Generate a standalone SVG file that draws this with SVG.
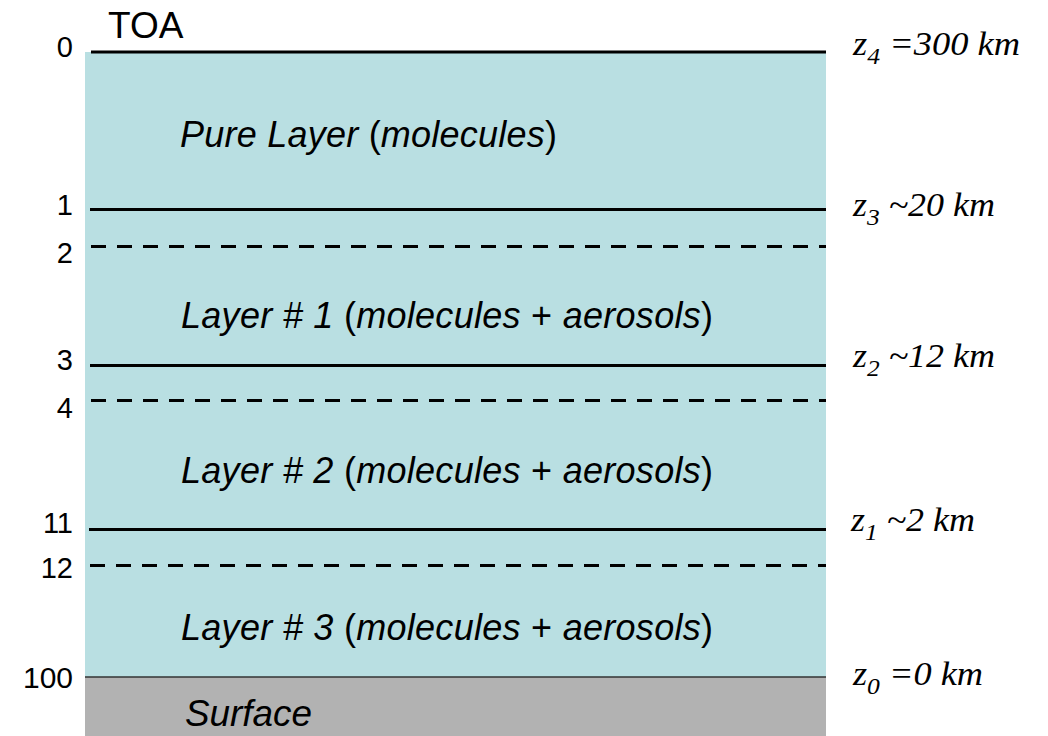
<svg xmlns="http://www.w3.org/2000/svg" width="1048" height="736" viewBox="0 0 1048 736">
<style>
.lvl{stroke:#000;stroke-width:3;fill:none}
.dash{stroke-dasharray:15 11}
.num{font-family:"Liberation Sans",Arial,sans-serif;font-size:29px;fill:#000;text-anchor:end}
.lay{font-family:"Liberation Sans",Arial,sans-serif;font-size:36px;font-style:italic;fill:#000}
.up{font-style:normal}
.z{font-family:"Liberation Serif","Times New Roman",serif;font-size:34px;font-style:italic;fill:#000}
.sub{font-size:24px}
</style>
<rect x="0" y="0" width="1048" height="736" fill="#fff"/>
<g id="atmosphere">
<rect x="85" y="52" width="741" height="625" fill="#B9DFE2"/>
</g>
<g id="surface">
<rect x="85" y="677" width="741" height="59" fill="#B2B2B2"/>
<line x1="85" y1="677" x2="826" y2="677" stroke="#333" stroke-width="1.5"/>
<text class="lay" x="185" y="726" textLength="127" lengthAdjust="spacingAndGlyphs">Surface</text>
</g>
<g id="connectors">
<line class="lvl" x1="91" y1="52" x2="826" y2="52"/>
<line class="lvl" x1="90" y1="209.5" x2="826" y2="209.5"/>
<line class="lvl dash" x1="91" y1="246.5" x2="826" y2="246.5"/>
<line class="lvl" x1="90" y1="365.5" x2="826" y2="365.5"/>
<line class="lvl dash" x1="91" y1="400.5" x2="826" y2="400.5"/>
<line class="lvl" x1="89" y1="529.5" x2="826" y2="529.5"/>
<line class="lvl dash" x1="90" y1="565.5" x2="826" y2="565.5"/>
</g>
<g id="toa">
<text x="108" y="38" font-family="Liberation Sans,Arial,sans-serif" font-size="37" fill="#000">TOA</text>
</g>
<g id="level-numbers">
<text class="num" x="73" y="57">0</text>
<text class="num" x="73" y="215">1</text>
<text class="num" x="73" y="263">2</text>
<text class="num" x="73" y="370">3</text>
<text class="num" x="73" y="418">4</text>
<text class="num" x="73" y="533">11</text>
<text class="num" x="73" y="578">12</text>
<text class="num" x="73" y="688" textLength="50" lengthAdjust="spacingAndGlyphs">100</text>
</g>
<g id="pure-layer">
<text class="lay" x="180" y="147" textLength="377" lengthAdjust="spacing">Pure Layer <tspan class="up">(</tspan>molecules<tspan class="up">)</tspan></text>
</g>
<g id="layer1">
<text class="lay" x="181" y="328" textLength="532" lengthAdjust="spacing">Layer # 1 <tspan class="up">(</tspan>molecules <tspan class="up">+</tspan> aerosols<tspan class="up">)</tspan></text>
</g>
<g id="layer2">
<text class="lay" x="181" y="483" textLength="532" lengthAdjust="spacing">Layer # 2 <tspan class="up">(</tspan>molecules <tspan class="up">+</tspan> aerosols<tspan class="up">)</tspan></text>
</g>
<g id="layer3">
<text class="lay" x="181" y="640" textLength="532" lengthAdjust="spacing">Layer # 3 <tspan class="up">(</tspan>molecules <tspan class="up">+</tspan> aerosols<tspan class="up">)</tspan></text>
</g>
<g id="altitudes">
<text class="z" x="853" y="55" textLength="167" lengthAdjust="spacingAndGlyphs">z<tspan class="sub" dy="9">4</tspan><tspan dy="-9"> =300 km</tspan></text>
<text class="z" x="853" y="216" textLength="142" lengthAdjust="spacingAndGlyphs">z<tspan class="sub" dy="9">3</tspan><tspan dy="-9"> ~20 km</tspan></text>
<text class="z" x="853" y="367" textLength="142" lengthAdjust="spacingAndGlyphs">z<tspan class="sub" dy="9">2</tspan><tspan dy="-9"> ~12 km</tspan></text>
<text class="z" x="851" y="531" textLength="124" lengthAdjust="spacingAndGlyphs">z<tspan class="sub" dy="9">1</tspan><tspan dy="-9"> ~2 km</tspan></text>
<text class="z" x="853" y="685" textLength="130" lengthAdjust="spacingAndGlyphs">z<tspan class="sub" dy="9">0</tspan><tspan dy="-9"> =0 km</tspan></text>
</g>
</svg>
